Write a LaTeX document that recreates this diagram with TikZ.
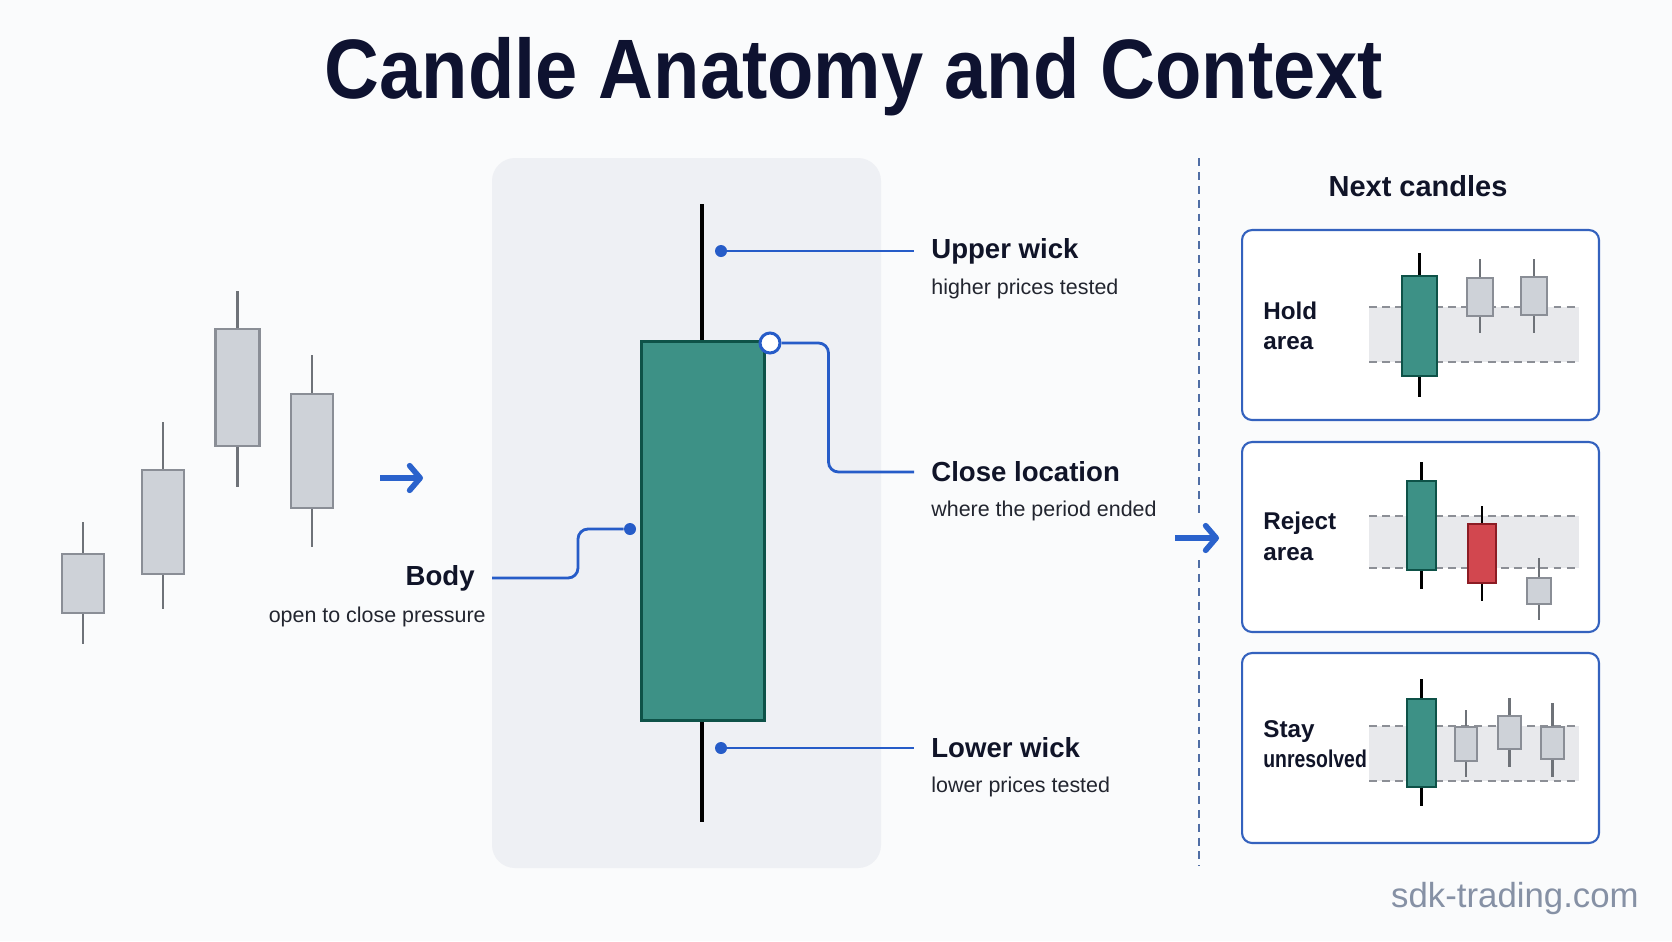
\documentclass[tikz,border=0pt]{standalone}
\usepackage{fontspec}
\setmainfont{Liberation Sans}
\usetikzlibrary{arrows.meta,positioning,calc}
\definecolor{bgpaper}{RGB}{250,251,252}
\definecolor{panelgrey}{RGB}{238,240,244}
\definecolor{titleink}{RGB}{14,18,48}
\definecolor{labelink}{RGB}{16,20,40}
\definecolor{subink}{RGB}{34,37,47}
\definecolor{leadblue}{RGB}{38,92,200}
\definecolor{arrowblue}{RGB}{42,98,204}
\definecolor{boxblue}{RGB}{52,98,190}
\definecolor{divblue}{RGB}{80,110,165}
\definecolor{bullteal}{RGB}{61,145,134}
\definecolor{bullline}{RGB}{14,82,72}
\definecolor{bearred}{RGB}{210,71,79}
\definecolor{bearline}{RGB}{140,28,36}
\definecolor{candlegrey}{RGB}{206,210,216}
\definecolor{greyline}{RGB}{138,142,150}
\definecolor{wickgrey}{RGB}{110,114,120}
\definecolor{bandgrey}{RGB}{232,233,236}
\definecolor{banddash}{RGB}{140,143,150}
\definecolor{wmgrey}{RGB}{134,145,165}

\begin{document}
\begin{tikzpicture}[x=0.02cm,y=-0.02cm,>=Latex,
 lbl/.style={anchor=west,inner xsep=0.34cm,inner ysep=0pt,font=\fontsize{15.7}{19}\selectfont\bfseries,text=labelink},
 sub/.style={anchor=base west,inner xsep=0.34cm,inner ysep=0pt,font=\fontsize{12.2}{15}\selectfont,text=subink},
 boxtxt/.style={anchor=base west,inner sep=0pt,font=\fontsize{13.8}{16}\selectfont\bfseries,text=labelink},
 dot/.style={circle,fill=leadblue,inner sep=0pt,minimum size=0.24cm},
 ring/.style={circle,draw=leadblue,line width=1.7pt,fill=white,inner sep=0pt,minimum size=0.4cm},
 lead/.style={draw=leadblue,line width=1.6pt},
 flow/.style={-{Straight Barb[length=6pt,width=14pt,round]},line width=3.2pt,draw=arrowblue},
 ctx/.style={draw=boxblue,line width=1.2pt,fill=white,rounded corners=0.2cm,minimum width=7.14cm,minimum height=3.8cm,inner sep=0pt},
 band/.style={fill=bandgrey},
 zone/.style={draw=banddash,line width=0.8pt,dash pattern=on 4.5pt off 3pt},
 divider/.style={draw=divblue,line width=1.1pt,dash pattern=on 4.5pt off 3.4pt},
 wick/.style={line width=1.3pt},
 cbody/.style={line width=1.2pt},
 greyc/.style={fill=candlegrey,draw=greyline},
 bullc/.style={fill=bullteal,draw=bullline},
 bearc/.style={fill=bearred,draw=bearline}]
\useasboundingbox (0,0) rectangle (1672,941);
\fill[bgpaper] (0,0) rectangle (1672,941);
\node[font=\fontsize{48}{56}\selectfont\bfseries,text=titleink,anchor=base] (title) at (854,98) {\scalebox{0.9}[1]{Candle Anatomy and Context}};

% earlier candles
\foreach \x/\wt/\bt/\bb/\wb/\hw/\c/\w in {83/522/554/613/644/21/greyc/wickgrey,163/422/470/574/609/21/greyc/wickgrey,237.5/291/329/446/487/22/greyc/wickgrey,312/355/394/508/547/21/greyc/wickgrey}{
 \draw[wick,draw=\w] (\x,\wt) -- (\x,\wb);
 \draw[cbody,\c] (\x-\hw,\bt) rectangle (\x+\hw,\bb);
}
\coordinate (a1s) at (380,478); \coordinate (a1e) at (423,478);
\draw[flow] (a1s) -- (a1e);

% anatomy panel
\fill[panelgrey,rounded corners=0.46cm] (492,158) rectangle (881,868);
\draw[line width=2.3pt,black] (702,204) -- (702,822);
\draw[fill=bullteal,draw=bullline,line width=1.7pt] (641,341) rectangle (764,720);

\node[dot] (dU) at (721,251) {};
\node[lbl] (upw) at (914,251) {Upper wick};
\node[sub] (upwS) at ($(upw.base west)+(0,36)$) {higher prices tested};
\draw[lead] (dU) -- (upw);

\node[ring] (dC) at (770,343) {};
\node[lbl] (clo) at (914,472) {Close location};
\node[sub] (cloS) at ($(clo.base west)+(0,35)$) {where the period ended};
\draw[lead,rounded corners=0.2cm] (dC.east) -- ++(47,0) |- (clo.west);

\node[dot] (dB) at (630,529) {};
\node[lbl,anchor=east] (bod) at (492,578) {Body};
\node[sub,anchor=base east] (bodS) at ($(bod.base east)+(11,37)$) {open to close pressure};
\draw[lead,rounded corners=0.2cm] (bod.east) -- ++(86,0) |- (dB.west);

\node[dot] (dL) at (721,748) {};
\node[lbl] (low) at (914,748) {Lower wick};
\node[sub] (lowS) at ($(low.base west)+(0,35)$) {lower prices tested};
\draw[lead] (dL) -- (low);

% divider and context
\coordinate (dv1) at (1199,158); \coordinate (dv2) at (1199,516);
\coordinate (dv3) at (1199,560); \coordinate (dv4) at (1199,866);
\draw[divider] (dv1) -- (dv2);
\draw[divider] (dv3) -- (dv4);
\coordinate (a2s) at (1175,538); \coordinate (a2e) at (1219,538);
\draw[flow] (a2s) -- (a2e);

\node[font=\fontsize{16.5}{20}\selectfont\bfseries,text=labelink,anchor=base] (next) at (1418,196) {Next candles};
\node[ctx] (hold) at (1420.5,325) {};
\node[ctx] (reject) at (1420.5,537) {};
\node[ctx] (stay) at (1420.5,748) {};

\foreach \t/\b in {307/362,516/568,726/781}{
 \fill[band] (1369,\t) rectangle (1579,\b);
 \draw[zone] (1369,\t) -- (1579,\t);
 \draw[zone] (1369,\b) -- (1579,\b);
}
\foreach \x/\wt/\bt/\bb/\wb/\hw/\c/\w in {1419.5/253/276/376/397/17.5/bullc/black,1480/259/278/316/333/13/greyc/wickgrey,1534/259/277/315/333/13/greyc/wickgrey,
 1421.5/462/481/570/589/14.5/bullc/black,1482/506/524/583/601/14/bearc/black,1539/558/578/604/620/12/greyc/wickgrey,
 1421.5/679/699/787/806/14.5/bullc/black,1466/710/727/761/777/11/greyc/wickgrey,1509.5/698/716/749/767/11.5/greyc/wickgrey,1552.5/703/727/759/777/11.5/greyc/wickgrey}{
 \draw[wick,draw=\w] (\x,\wt) -- (\x,\wb);
 \draw[cbody,\c] (\x-\hw,\bt) rectangle (\x+\hw,\bb);
}

\node[boxtxt] (holdA) at (1263,319) {Hold};
\node[boxtxt] (holdB) at (1263,349) {area};
\node[boxtxt] (rejA) at (1263,529) {Reject};
\node[boxtxt] (rejB) at (1263,560) {area};
\node[boxtxt] (stayA) at (1263,737) {Stay};
\node[boxtxt] (stayB) at (1263,767) {\scalebox{0.8}[1]{unresolved}};

\node[font=\fontsize{19.8}{24}\selectfont,text=wmgrey,anchor=base east,inner sep=0pt] (wm) at (1639,907) {sdk-trading.com};
\end{tikzpicture}
\end{document}
